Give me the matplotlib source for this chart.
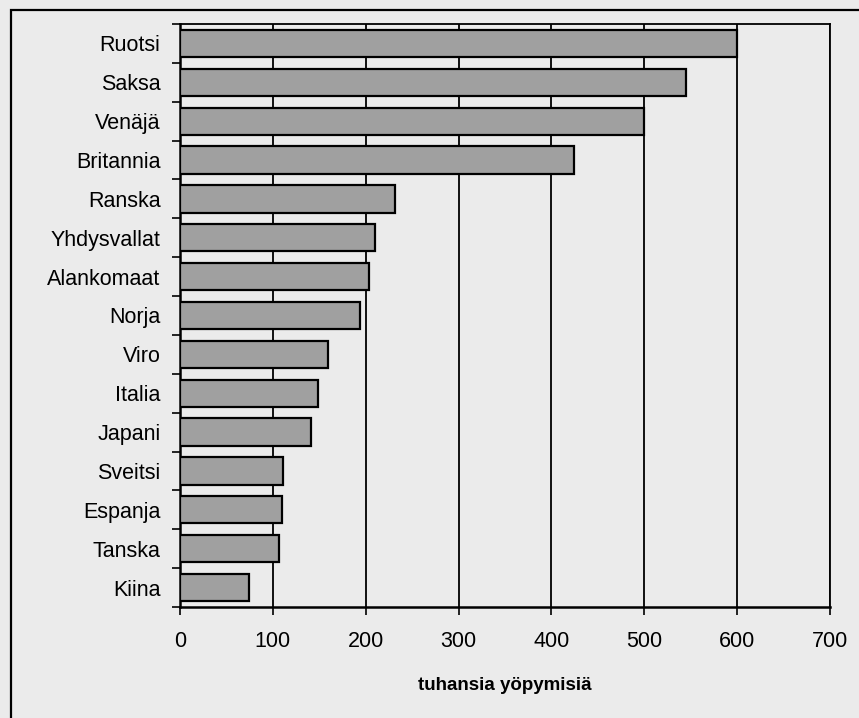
import matplotlib.pyplot as plt
from matplotlib.patches import Rectangle
from matplotlib.ticker import FixedLocator

# Data (thousands of overnight stays)
countries = ["Ruotsi", "Saksa", "Venäjä", "Britannia", "Ranska", "Yhdysvallat",
             "Alankomaat", "Norja", "Viro", "Italia", "Japani", "Sveitsi",
             "Espanja", "Tanska", "Kiina"]
nights = [600, 545, 500, 424, 232, 210, 203, 194, 159, 149, 141, 111, 110, 107, 74]
x_ticks = [0, 100, 200, 300, 400, 500, 600, 700]
x_label = "tuhansia yöpymisiä"

plt.rcParams["font.family"] = ["Liberation Sans", "DejaVu Sans"]
bg = "#ebebeb"

fig = plt.figure(figsize=(8.59, 7.18), dpi=100, facecolor=bg)
ax = fig.add_axes([180 / 859, 111 / 718, 650 / 859, 583 / 718], facecolor=bg)

pos = list(range(len(countries)))
ax.barh(pos, nights, height=0.7, color="#a0a0a0", edgecolor="black",
        linewidth=1.6, zorder=3)

ax.set_xlim(0, 700)
ax.set_ylim(len(countries) - 0.5, -0.5)
ax.set_xticks(x_ticks)
ax.set_yticks(pos)
ax.set_yticklabels(countries)
ax.yaxis.set_minor_locator(FixedLocator([p - 0.5 for p in pos] + [len(pos) - 0.5]))

ax.tick_params(axis="y", which="major", length=0, pad=14, labelsize=15.5)
ax.tick_params(axis="y", which="minor", length=6, width=1.2, direction="out")
ax.tick_params(axis="x", length=6, width=1.2, pad=11, labelsize=15.5)
ax.grid(axis="x", color="black", linewidth=1.3, zorder=1)
ax.set_axisbelow(True)

for side in ["left", "bottom"]:
    ax.spines[side].set_linewidth(1.8)
for side in ["top", "right"]:
    ax.spines[side].set_linewidth(1.3)

ax.set_xlabel(x_label, fontsize=13.5, fontweight="bold", labelpad=18)

# outer frame of the scanned figure
fig.patches.append(Rectangle((11 / 859, -0.05), 1.1, 1 - 10 / 718 + 0.05,
                             transform=fig.transFigure, fill=False,
                             edgecolor="black", linewidth=1.6))

fig.savefig("out.png", dpi=100, facecolor=bg)
